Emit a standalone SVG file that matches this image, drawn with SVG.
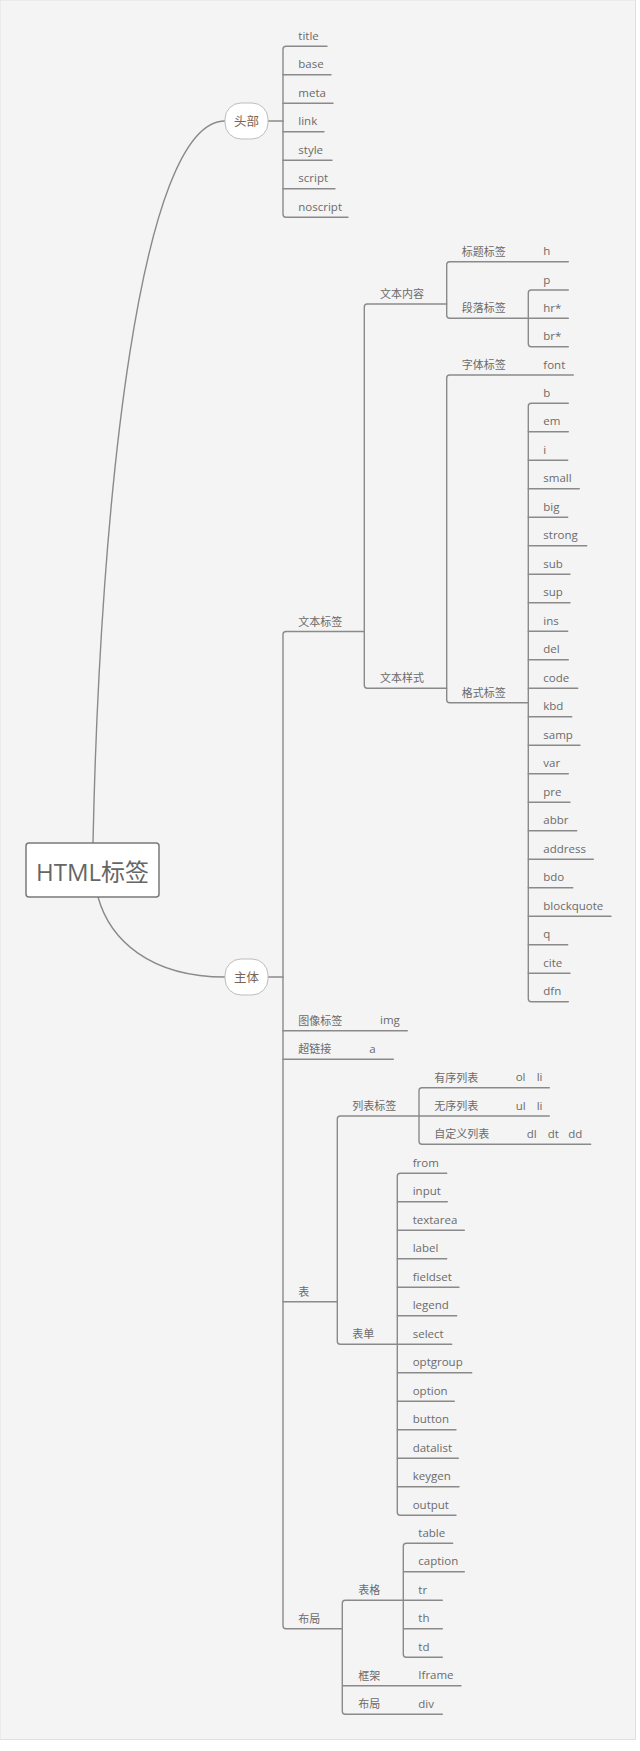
<svg xmlns="http://www.w3.org/2000/svg" width="640" height="1751" viewBox="0 0 640 1751">
<style>
.ln{fill:none;stroke:#8a8a8a;stroke-width:1.4;stroke-linecap:round}
.t{font-family:"Open Sans","Liberation Sans",sans-serif;font-size:11.5px;fill:#6b6b6b}
.c{font-family:"Noto Sans CJK SC",sans-serif;font-size:11px;fill:#6b6b6b}
.tp{font-family:"Noto Sans CJK SC",sans-serif;font-size:12.5px;fill:#7a6552;text-anchor:middle}
.pill{fill:#ffffff;stroke:#bdbdbd;stroke-width:1}
</style>
<rect x="0" y="0" width="640" height="1751" fill="#ffffff"/>
<rect x="0" y="0" width="635.5" height="1739.5" fill="#f4f4f4" stroke="#e0e0e0" stroke-width="1"/>
<g id="connectors" class="ln">
<path d="M93,843 C100,500 140,121 225,121"/>
<path d="M98,897 C110,940 150,977 225,977"/>
<path d="M268,121 H283"/>
<path d="M327,46.3 H286 Q283,46.3 283,49.3 V214.3 Q283,217.3 286,217.3 H348"/>
<path d="M283,74.8 H331 M283,103.3 H333 M283,131.8 H324 M283,160.3 H332 M283,188.8 H335"/>
<path d="M268,977 H283"/>
<path d="M364.3,631.5 H286 Q283,631.5 283,634.5 V1625.8 Q283,1628.8 286,1628.8 H342.3"/>
<path d="M283,1030.7 H407.3 M283,1059.2 H393.3 M283,1301.7 H337.3"/>
<path d="M446.7,304 H367.3 Q364.3,304 364.3,307 V685.3 Q364.3,688.3 367.3,688.3 H446.7"/>
<path d="M568.3,261.7 H449.7 Q446.7,261.7 446.7,264.7 V315.3 Q446.7,318.3 449.7,318.3 H528.3"/>
<path d="M568.3,290 H531.3 Q528.3,290 528.3,293 V343.7 Q528.3,346.7 531.3,346.7 H568.3 M528.3,318.3 H568.3"/>
<path d="M573.3,375 H449.7 Q446.7,375 446.7,378 V699.7 Q446.7,702.7 449.7,702.7 H528.3"/>
<path d="M568.3,403.3 H531.3 Q528.3,403.3 528.3,406.3 V998.8 Q528.3,1001.8 531.3,1001.8 H568.3"/>
<path d="M528.3,431.8 H568.3 M528.3,460.3 H567.7 M528.3,488.8 H579.3 M528.3,517.3 H567.7 M528.3,545.8 H586.7 M528.3,574.3 H570 M528.3,602.8 H570 M528.3,631.3 H567.7 M528.3,659.8 H568.3 M528.3,688.3 H577.7 M528.3,716.8 H571.7 M528.3,745.3 H580 M528.3,773.8 H568.3 M528.3,802.3 H570 M528.3,830.8 H576.7 M528.3,859.3 H593.3 M528.3,887.8 H572.7 M528.3,916.3 H611 M528.3,944.8 H567.7 M528.3,973.3 H570"/>
<path d="M419,1116 H340.3 Q337.3,1116 337.3,1119 V1341.3 Q337.3,1344.3 340.3,1344.3 H397.3"/>
<path d="M549.3,1087.7 H422 Q419,1087.7 419,1090.7 V1141.3 Q419,1144.3 422,1144.3 H590.7 M419,1116 H549.3"/>
<path d="M446.7,1173.3 H400.3 Q397.3,1173.3 397.3,1176.3 V1512.3 Q397.3,1515.3 400.3,1515.3 H456"/>
<path d="M397.3,1201.8 H447.3 M397.3,1230.3 H464.3 M397.3,1258.8 H446.7 M397.3,1287.3 H459 M397.3,1315.8 H456.7 M397.3,1344.3 H451.7 M397.3,1372.8 H471.7 M397.3,1401.3 H454.3 M397.3,1429.8 H456 M397.3,1458.3 H458.3 M397.3,1486.8 H459"/>
<path d="M403.3,1600.3 H345.3 Q342.3,1600.3 342.3,1603.3 V1711.3 Q342.3,1714.3 345.3,1714.3 H442.3 M342.3,1685.8 H461"/>
<path d="M452.7,1543.3 H406.3 Q403.3,1543.3 403.3,1546.3 V1654.3 Q403.3,1657.3 406.3,1657.3 H442.3 M403.3,1571.8 H464.3 M403.3,1600.3 H442.3 M403.3,1628.8 H442.3"/>
</g>
<g id="root">
<rect x="26" y="843" width="133" height="54" rx="3" fill="#ffffff" stroke="#7a7a7a" stroke-width="1.5"/>
<text x="92.5" y="881" text-anchor="middle" font-family="'Open Sans','Noto Sans CJK SC',sans-serif" font-size="24" fill="#666666">HTML标签</text>
</g>
<g id="head">
<rect class="pill" x="225" y="103" width="43" height="36" rx="16"/>
<text class="tp" x="246.5" y="125.5">头部</text>
</g>
<g id="body">
<rect class="pill" x="225" y="959" width="43" height="36" rx="16"/>
<text class="tp" x="246.5" y="981.5">主体</text>
</g>
<g id="head-items" class="t">
<text x="298.3" y="39.8">title</text>
<text x="298.3" y="68.3">base</text>
<text x="298.3" y="96.8">meta</text>
<text x="298.3" y="125.3">link</text>
<text x="298.3" y="153.8">style</text>
<text x="298.3" y="182.3">script</text>
<text x="298.3" y="210.8">noscript</text>
</g>
<g id="text-tags">
<text class="c" x="298.3" y="625.5">文本标签</text>
</g>
<g id="text-content">
<text class="c" x="380" y="298">文本内容</text>
</g>
<g id="heading-tags">
<text class="c" x="461.7" y="255.7">标题标签</text>
<text class="t" x="543.3" y="255.2">h</text>
</g>
<g id="para-tags">
<text class="c" x="461.7" y="312.3">段落标签</text>
<text class="t" x="543.3" y="283.5">p</text>
<text class="t" x="543.3" y="311.8">hr*</text>
<text class="t" x="543.3" y="340.2">br*</text>
</g>
<g id="text-style">
<text class="c" x="380" y="682.3">文本样式</text>
</g>
<g id="font-tags">
<text class="c" x="461.7" y="369">字体标签</text>
<text class="t" x="543.3" y="368.5">font</text>
</g>
<g id="format-tags">
<text class="c" x="461.7" y="696.5">格式标签</text>
</g>
<g id="format-items" class="t">
<text x="543.3" y="396.8">b</text>
<text x="543.3" y="425.3">em</text>
<text x="543.3" y="453.8">i</text>
<text x="543.3" y="482.3">small</text>
<text x="543.3" y="510.8">big</text>
<text x="543.3" y="539.3">strong</text>
<text x="543.3" y="567.8">sub</text>
<text x="543.3" y="596.3">sup</text>
<text x="543.3" y="624.8">ins</text>
<text x="543.3" y="653.3">del</text>
<text x="543.3" y="681.8">code</text>
<text x="543.3" y="710.3">kbd</text>
<text x="543.3" y="738.8">samp</text>
<text x="543.3" y="767.3">var</text>
<text x="543.3" y="795.8">pre</text>
<text x="543.3" y="824.3">abbr</text>
<text x="543.3" y="852.8">address</text>
<text x="543.3" y="881.3">bdo</text>
<text x="543.3" y="909.8">blockquote</text>
<text x="543.3" y="938.3">q</text>
<text x="543.3" y="966.8">cite</text>
<text x="543.3" y="995.3">dfn</text>
</g>
<g id="image-tags">
<text class="c" x="298.3" y="1024.7">图像标签</text>
<text class="t" x="380" y="1024.2">img</text>
</g>
<g id="hyperlink">
<text class="c" x="298.3" y="1053.2">超链接</text>
<text class="t" x="369.3" y="1052.7">a</text>
</g>
<g id="table-group">
<text class="c" x="298.3" y="1295.7">表</text>
</g>
<g id="list-tags">
<text class="c" x="352.3" y="1110">列表标签</text>
</g>
<g id="ordered-list">
<text class="c" x="434.3" y="1081.7">有序列表</text>
<text class="t" x="515.7" y="1081.2">ol</text>
<text class="t" x="536.7" y="1081.2">li</text>
</g>
<g id="unordered-list">
<text class="c" x="434.3" y="1110">无序列表</text>
<text class="t" x="515.7" y="1109.5">ul</text>
<text class="t" x="536.7" y="1109.5">li</text>
</g>
<g id="definition-list">
<text class="c" x="434.3" y="1138.3">自定义列表</text>
<text class="t" x="526.7" y="1137.8">dl</text>
<text class="t" x="547.7" y="1137.8">dt</text>
<text class="t" x="568.3" y="1137.8">dd</text>
</g>
<g id="form">
<text class="c" x="352.3" y="1338.3">表单</text>
</g>
<g id="form-items" class="t">
<text x="412.7" y="1166.8">from</text>
<text x="412.7" y="1195.3">input</text>
<text x="412.7" y="1223.8">textarea</text>
<text x="412.7" y="1252.3">label</text>
<text x="412.7" y="1280.8">fieldset</text>
<text x="412.7" y="1309.3">legend</text>
<text x="412.7" y="1337.8">select</text>
<text x="412.7" y="1366.3">optgroup</text>
<text x="412.7" y="1394.8">option</text>
<text x="412.7" y="1423.3">button</text>
<text x="412.7" y="1451.8">datalist</text>
<text x="412.7" y="1480.3">keygen</text>
<text x="412.7" y="1508.8">output</text>
</g>
<g id="layout">
<text class="c" x="298.3" y="1622.8">布局</text>
</g>
<g id="table-tags">
<text class="c" x="358.3" y="1594.3">表格</text>
<text class="t" x="418.3" y="1536.8">table</text>
<text class="t" x="418.3" y="1565.3">caption</text>
<text class="t" x="418.3" y="1593.8">tr</text>
<text class="t" x="418.3" y="1622.3">th</text>
<text class="t" x="418.3" y="1650.8">td</text>
</g>
<g id="frame">
<text class="c" x="358.3" y="1679.8">框架</text>
<text class="t" x="418.3" y="1679.3">Iframe</text>
</g>
<g id="layout-div">
<text class="c" x="358.3" y="1708.3">布局</text>
<text class="t" x="418.3" y="1707.8">div</text>
</g>
</svg>
